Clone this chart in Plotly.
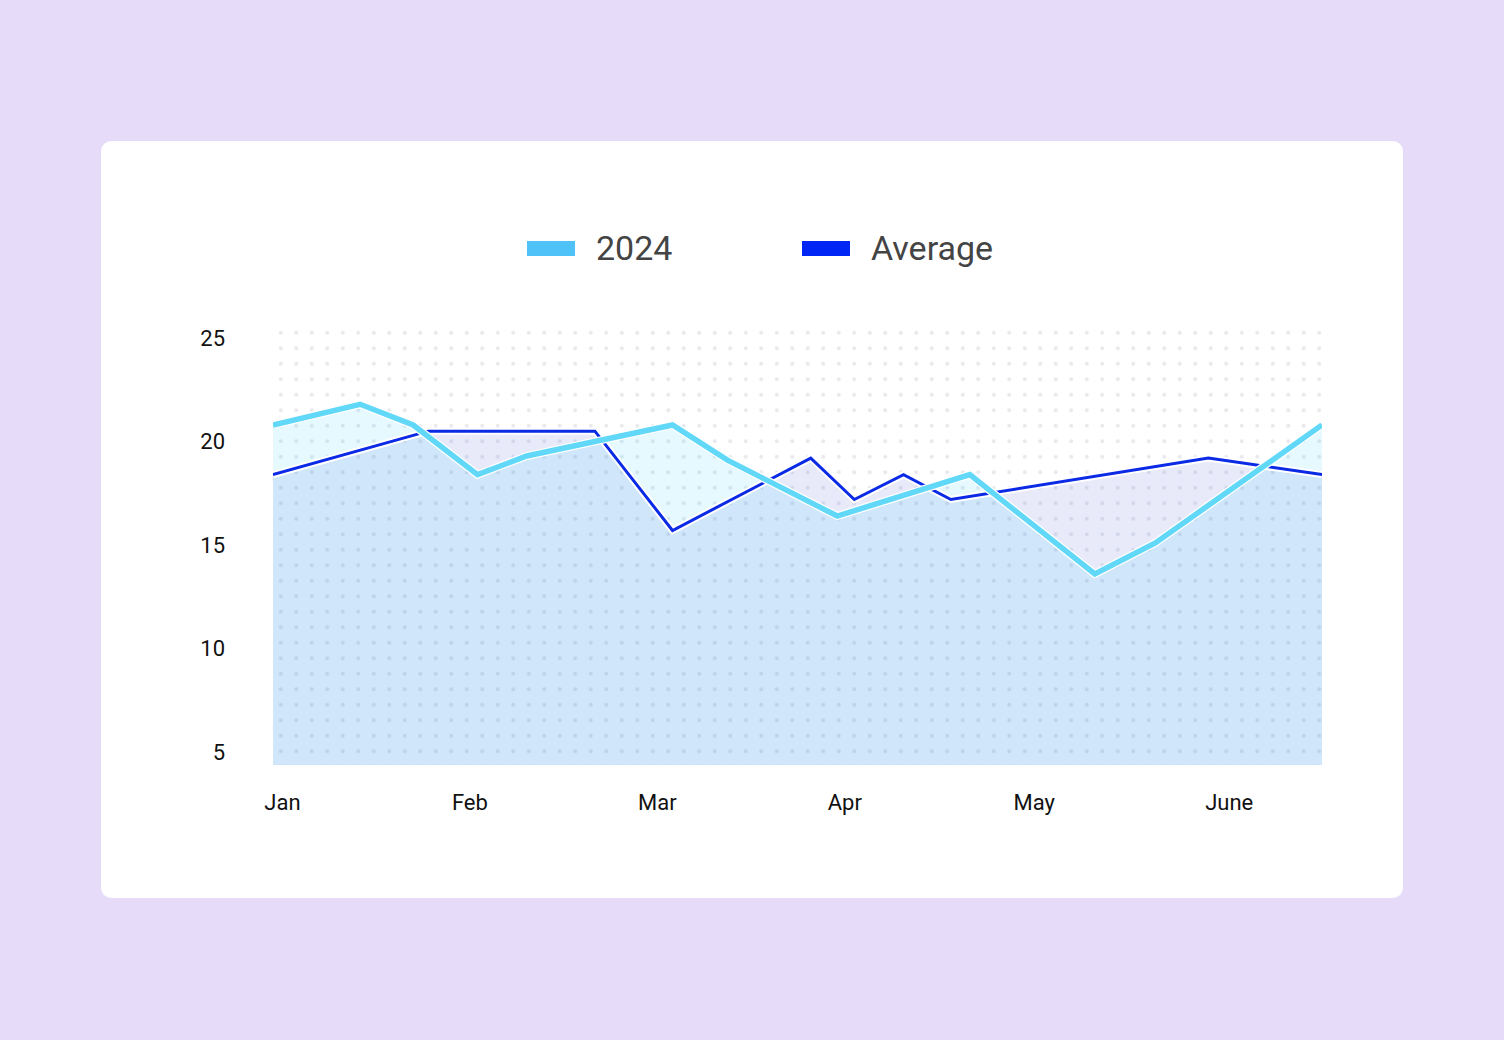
import plotly.graph_objects as go

# ---------------- data ----------------
months = ["Jan", "Feb", "Mar", "Apr", "May", "June"]
month_pos = [0.0, 0.99, 1.98, 2.97, 3.97, 5.0]

x_2024 = [-0.05, 0.41, 0.69, 1.03, 1.29, 2.06, 2.35, 2.93, 3.63, 4.29, 4.61, 5.49]
y_2024 = [20.8, 21.8, 20.8, 18.4, 19.3, 20.8, 19.1, 16.4, 18.4, 13.6, 15.1, 20.8]

x_avg = [-0.05, 0.77, 1.65, 2.06, 2.79, 3.02, 3.28, 3.53, 4.89, 5.49]
y_avg = [18.4, 20.5, 20.5, 15.7, 19.2, 17.2, 18.4, 17.2, 19.2, 18.4]

y_ticks = [5, 10, 15, 20, 25]
series_names = ["2024", "Average"]

# ---------------- layout geometry ----------------
W, H = 1504, 1040
L, R, T, B = 273, 182, 325, 275
PW, PH = W - L - R, H - T - B

def px_x(px):
    return (px - L) / PW

def px_y(py):
    return (H - B - py) / PH

X_RANGE = [min(x_2024 + x_avg), max(x_2024 + x_avg)]
Y_RANGE = [4.37, 25.63]

C_2024_LINE = "#62D8F8"
C_2024_SW = "#4FC3F7"
C_AVG_LINE = "#0A2AE6"
C_AVG_SW = "#0026F5"

fig = go.Figure()

# dotted background pattern over the plotting area
fig.add_trace(go.Scatter(
    x=[X_RANGE[0], X_RANGE[1], X_RANGE[1], X_RANGE[0], X_RANGE[0]],
    y=[Y_RANGE[0], Y_RANGE[0], Y_RANGE[1], Y_RANGE[1], Y_RANGE[0]],
    mode="none", fill="toself", fillcolor="rgba(0,0,0,0)",
    fillpattern=dict(shape=".", size=15.5, solidity=0.05, fgcolor="#CFCFDA",
                     bgcolor="rgba(0,0,0,0)", fillmode="overlay"),
    hoverinfo="skip", showlegend=False,
))

# area fills
fig.add_trace(go.Scatter(x=x_avg, y=y_avg, mode="none", fill="tozeroy",
                         fillcolor="rgba(25,45,205,0.10)", hoverinfo="skip",
                         showlegend=False))
fig.add_trace(go.Scatter(x=x_2024, y=y_2024, mode="none", fill="tozeroy",
                         fillcolor="rgba(0,200,255,0.10)", hoverinfo="skip",
                         showlegend=False))

# white halos under lines
fig.add_trace(go.Scatter(x=x_avg, y=y_avg, mode="lines",
                         line=dict(color="white", width=7), hoverinfo="skip",
                         showlegend=False))
fig.add_trace(go.Scatter(x=x_avg, y=y_avg, mode="lines", name=series_names[1],
                         line=dict(color=C_AVG_LINE, width=3), showlegend=False))
fig.add_trace(go.Scatter(x=x_2024, y=y_2024, mode="lines",
                         line=dict(color="white", width=8), hoverinfo="skip",
                         showlegend=False))
fig.add_trace(go.Scatter(x=x_2024, y=y_2024, mode="lines", name=series_names[0],
                         line=dict(color=C_2024_LINE, width=5.5), showlegend=False))

# ---------------- shapes: card + legend swatches ----------------
def rounded_rect(x0, y0, x1, y1, r):
    # pixel coords (y down) -> paper path
    rx, ry = r / PW, r / PH
    X0, X1 = px_x(x0), px_x(x1)
    Yt, Yb = px_y(y0), px_y(y1)
    return (f"M {X0+rx},{Yt} L {X1-rx},{Yt} Q {X1},{Yt} {X1},{Yt-ry} "
            f"L {X1},{Yb+ry} Q {X1},{Yb} {X1-rx},{Yb} "
            f"L {X0+rx},{Yb} Q {X0},{Yb} {X0},{Yb+ry} "
            f"L {X0},{Yt-ry} Q {X0},{Yt} {X0+rx},{Yt} Z")

shapes = [
    dict(type="path", xref="paper", yref="paper", layer="below",
         path=rounded_rect(101, 141, 1403, 898, 12),
         fillcolor="white", line=dict(width=0)),
]

legend_items = [
    (series_names[0], C_2024_SW, 527, 594),
    (series_names[1], C_AVG_SW, 802, 869),
]
annotations = []
for name, col, sw_x, tx_x in legend_items:
    shapes.append(dict(type="rect", xref="paper", yref="paper",
                       x0=px_x(sw_x), x1=px_x(sw_x + 48),
                       y0=px_y(256), y1=px_y(241),
                       fillcolor=col, line=dict(width=0)))
    annotations.append(dict(xref="paper", yref="paper", x=px_x(tx_x), y=px_y(248),
                            xanchor="left", yanchor="middle", showarrow=False,
                            text=name, font=dict(family="Roboto", size=34, color="#444444")))

fig.update_layout(
    width=W, height=H,
    margin=dict(l=L, r=R, t=T, b=B, pad=0),
    paper_bgcolor="#E6DCFA",
    plot_bgcolor="rgba(0,0,0,0)",
    showlegend=False,
    shapes=shapes,
    annotations=annotations,
    hovermode=False,
    xaxis=dict(range=X_RANGE, tickvals=month_pos, ticktext=months,
               showgrid=False, zeroline=False, showline=False, ticks="",
               ticklabelstandoff=22,
               tickfont=dict(family="Roboto", size=22, color="#111111"),
               fixedrange=True),
    yaxis=dict(range=Y_RANGE, tickvals=y_ticks, ticktext=[str(v) for v in y_ticks],
               showgrid=False, zeroline=False, showline=False, ticks="",
               ticklabelstandoff=47,
               tickfont=dict(family="Roboto", size=22, color="#111111"),
               fixedrange=True),
)

fig.write_html("out.html")
